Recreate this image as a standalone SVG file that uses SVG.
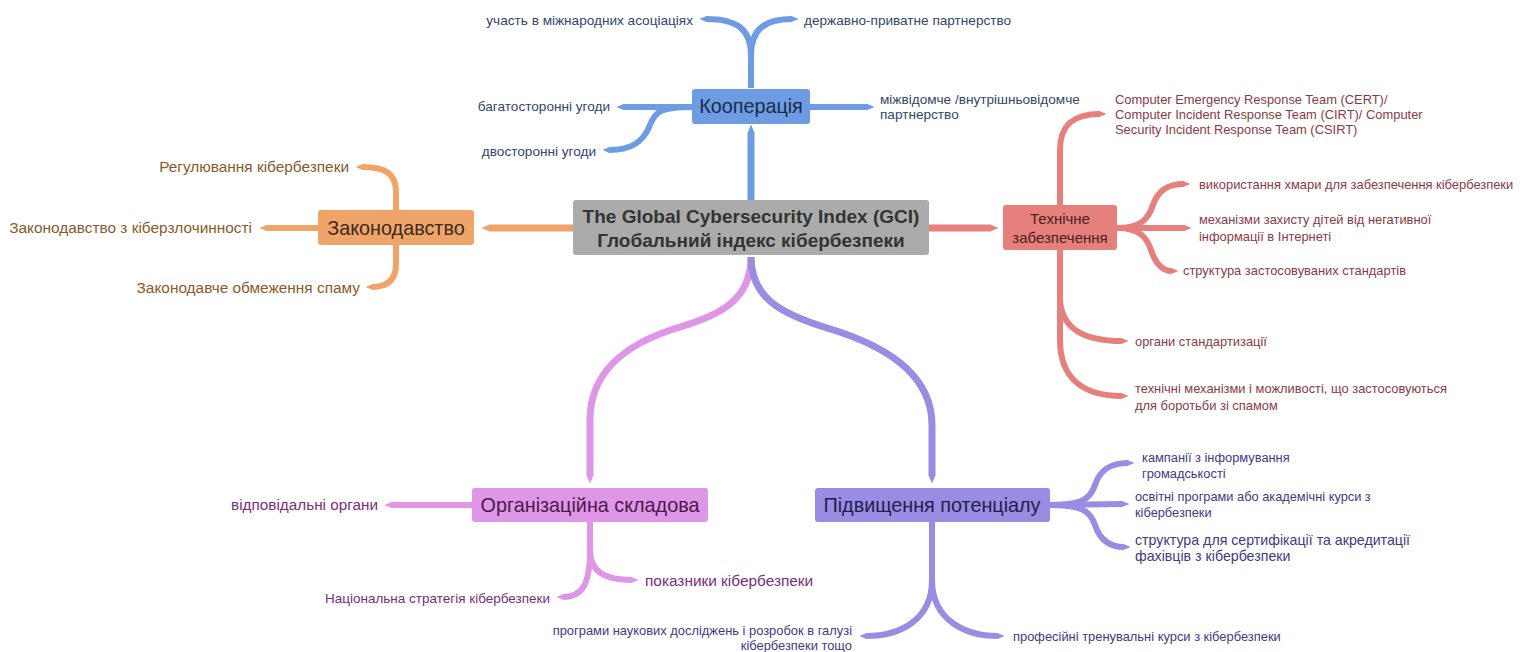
<svg xmlns="http://www.w3.org/2000/svg" width="1524" height="652" viewBox="0 0 1524 652">
<defs>
<style>
text{font-family:"Liberation Sans",Arial,sans-serif}
.c{fill:none;stroke-width:6;stroke-linecap:butt;stroke-linejoin:round}
.cm{fill:none;stroke-width:7;stroke-linecap:butt}
.b{stroke:#6d9ce3}.o{stroke:#f0a468}.r{stroke:#e6807c}.p{stroke:#e096e6}.v{stroke:#9a8be3}
.tb{fill:#34456e;font-size:13.6px}
.to{fill:#8b5a2b;font-size:15.4px}
.tr{fill:#8b3a45;font-size:12.9px}
.tp{fill:#7a2e7a}
.tv{fill:#3f3a85}
.n{font-size:19.8px;text-anchor:middle}
.e{text-anchor:end}
</style>
<marker id="mb" viewBox="0 0 10 10" refX="1" refY="5" markerWidth="1.2" markerHeight="1" preserveAspectRatio="none" orient="auto"><path d="M0,0L10,5L0,10z" fill="#6d9ce3"/></marker>
<marker id="mo" viewBox="0 0 10 10" refX="1" refY="5" markerWidth="1.2" markerHeight="1" preserveAspectRatio="none" orient="auto"><path d="M0,0L10,5L0,10z" fill="#f0a468"/></marker>
<marker id="mr" viewBox="0 0 10 10" refX="1" refY="5" markerWidth="1.2" markerHeight="1" preserveAspectRatio="none" orient="auto"><path d="M0,0L10,5L0,10z" fill="#e6807c"/></marker>
<marker id="mp" viewBox="0 0 10 10" refX="1" refY="5" markerWidth="1.2" markerHeight="1" preserveAspectRatio="none" orient="auto"><path d="M0,0L10,5L0,10z" fill="#e096e6"/></marker>
<marker id="mv" viewBox="0 0 10 10" refX="1" refY="5" markerWidth="1.2" markerHeight="1" preserveAspectRatio="none" orient="auto"><path d="M0,0L10,5L0,10z" fill="#9a8be3"/></marker>
</defs>
<rect width="1524" height="652" fill="#ffffff"/>
<g id="connectors">
<!-- blue -->
<path class="cm b" d="M751,200 L751,132" marker-end="url(#mb)"/>
<path class="c b" d="M751,88 L751,55 C751,30 738,19 706,19" marker-end="url(#mb)"/>
<path class="c b" d="M751,88 L751,55 C751,30 764,19 792,19" marker-end="url(#mb)"/>
<path class="c b" d="M692,107 L623,107" marker-end="url(#mb)"/>
<path class="c b" d="M692,107 C660,107 655,112 650,125 C643,143 630,150 609,150" marker-end="url(#mb)"/>
<path class="c b" d="M810,107 L868,107" marker-end="url(#mb)"/>
<!-- orange -->
<path class="cm o" d="M573,228 L489,228" marker-end="url(#mo)"/>
<path class="c o" d="M396,210 L396,192 C396,174 386,167 362,167" marker-end="url(#mo)"/>
<path class="c o" d="M318,228 L266,228" marker-end="url(#mo)"/>
<path class="c o" d="M396,245 L396,264 C396,281 386,287 372,287" marker-end="url(#mo)"/>
<!-- red -->
<path class="cm r" d="M929,228 L991,228" marker-end="url(#mr)"/>
<path class="c r" d="M1060,205 L1060,150 C1060,124 1074,114 1100,114" marker-end="url(#mr)"/>
<path class="c r" d="M1117,228 C1140,228 1148,220 1153,205 C1158,190 1168,184 1184,184" marker-end="url(#mr)"/>
<path class="c r" d="M1117,228 L1185,228" marker-end="url(#mr)"/>
<path class="c r" d="M1117,228 C1140,228 1147,238 1151,250 C1156,265 1163,271 1172,271" marker-end="url(#mr)"/>
<path class="c r" d="M1060,250 L1060,300 C1062,330 1085,341 1122,341" marker-end="url(#mr)"/>
<path class="c r" d="M1060,250 L1060,340 C1060,380 1085,396 1122,396" marker-end="url(#mr)"/>
<!-- pink -->
<path class="cm p" d="M751,257 C751,300 720,315 680,327 C620,345 590,375 590,420 L590,476" marker-end="url(#mp)"/>
<path class="c p" d="M472,505 L391,505" marker-end="url(#mp)"/>
<path class="c p" d="M590,521 L590,550 C590,588 580,597 563,597" marker-end="url(#mp)"/>
<path class="c p" d="M590,521 L590,550 C590,572 605,580 632,580" marker-end="url(#mp)"/>
<!-- purple -->
<path class="cm v" d="M751,257 C751,300 785,315 827,328 C895,348 932,380 932,425 L932,476" marker-end="url(#mv)"/>
<path class="c v" d="M1050,505 C1080,505 1090,500 1095,485 C1100,470 1110,463 1128,463" marker-end="url(#mv)"/>
<path class="c v" d="M1050,505 L1123,504" marker-end="url(#mv)"/>
<path class="c v" d="M1050,505 C1080,505 1090,510 1095,525 C1100,540 1110,547 1124,547" marker-end="url(#mv)"/>
<path class="c v" d="M932,521 L932,580 C932,620 900,636 866,636" marker-end="url(#mv)"/>
<path class="c v" d="M932,521 L932,580 C932,620 965,636 998,636" marker-end="url(#mv)"/>
</g>
<g id="center">
<rect x="573" y="200" width="356" height="55" rx="3" fill="#ababab"/>
<text x="751" y="223" text-anchor="middle" font-size="19" font-weight="bold" fill="#333333">The Global Cybersecurity Index (GCI)</text>
<text x="751" y="247" text-anchor="middle" font-size="19" font-weight="bold" fill="#333333">Глобальний індекс кібербезпеки</text>
</g>
<g id="cooperation">
<rect x="692" y="89" width="118" height="35" rx="3" fill="#6d9ce3"/>
<text class="n" x="751" y="113" fill="#1c2b4a">Кооперація</text>
</g>
<g id="coop-children">
<text class="tb e" x="693" y="24.5">участь в міжнародних асоціаціях</text>
<text class="tb" x="804" y="24.5">державно-приватне партнерство</text>
<text class="tb e" x="610" y="110.5">багатосторонні угоди</text>
<text class="tb e" x="596" y="155.5">двосторонні угоди</text>
<text class="tb" x="880" y="103.5">міжвідомче /внутрішньовідомче</text>
<text class="tb" x="880" y="119">партнерство</text>
</g>
<g id="legislation">
<rect x="318" y="210" width="156" height="35" rx="3" fill="#f0a468"/>
<text class="n" x="396" y="235" fill="#3b2a20">Законодавство</text>
</g>
<g id="legislation-children">
<text class="to e" x="349" y="172">Регулювання кібербезпеки</text>
<text class="to e" x="252" y="233">Законодавство з кіберзлочинності</text>
<text class="to e" x="360" y="293">Законодавче обмеження спаму</text>
</g>
<g id="technical">
<rect x="1003" y="205" width="114" height="45" rx="3" fill="#e6807c"/>
<text x="1060" y="224" text-anchor="middle" font-size="15" fill="#4a2020">Технічне</text>
<text x="1060" y="243" text-anchor="middle" font-size="15" fill="#4a2020">забезпечення</text>
</g>
<g id="technical-children">
<text class="tr" x="1115" y="103.5">Computer Emergency Response Team (CERT)/</text>
<text class="tr" x="1115" y="118.5">Computer Incident Response Team (CIRT)/ Computer</text>
<text class="tr" x="1115" y="134">Security Incident Response Team (CSIRT)</text>
<text class="tr" x="1199" y="188.5">використання хмари для забезпечення кібербезпеки</text>
<text class="tr" x="1199" y="223.5">механізми захисту дітей від негативної</text>
<text class="tr" x="1199" y="240.5">інформації в Інтернеті</text>
<text class="tr" x="1183" y="274.5">структура застосовуваних стандартів</text>
<text class="tr" x="1135" y="345.5">органи стандартизації</text>
<text class="tr" x="1135" y="392.5">технічні механізми і можливості, що застосовуються</text>
<text class="tr" x="1135" y="409.5">для боротьби зі спамом</text>
</g>
<g id="organizational">
<rect x="472" y="488" width="236" height="34" rx="3" fill="#e096e6"/>
<text class="n" x="590" y="512" fill="#4a1a4a" font-size="20">Організаційна складова</text>
</g>
<g id="organizational-children">
<text class="tp e" x="378" y="510" font-size="15.3">відповідальні органи</text>
<text class="tp e" x="550" y="602.5" font-size="13.5">Національна стратегія кібербезпеки</text>
<text class="tp" x="645" y="586" font-size="15.4">показники кібербезпеки</text>
</g>
<g id="capacity">
<rect x="815" y="488" width="235" height="34" rx="3" fill="#9a8be3"/>
<text class="n" x="932" y="512" fill="#1f1f4a">Підвищення потенціалу</text>
</g>
<g id="capacity-children">
<text class="tv" x="1142" y="461.5" font-size="12.85">кампанії з інформування</text>
<text class="tv" x="1142" y="477.5" font-size="12.85">громадськості</text>
<text class="tv" x="1135" y="501" font-size="12.8">освітні програми або академічні курси з</text>
<text class="tv" x="1135" y="517" font-size="12.8">кібербезпеки</text>
<text class="tv" x="1135" y="545" font-size="14.2">структура для сертифікації та акредитації</text>
<text class="tv" x="1135" y="561" font-size="14.2">фахівців з кібербезпеки</text>
<text class="tv e" x="852" y="635" font-size="12.9">програми наукових досліджень і розробок в галузі</text>
<text class="tv e" x="852" y="650" font-size="12.9">кібербезпеки тощо</text>
<text class="tv" x="1013" y="641" font-size="12.9">професійні тренувальні курси з кібербезпеки</text>
</g>
</svg>
